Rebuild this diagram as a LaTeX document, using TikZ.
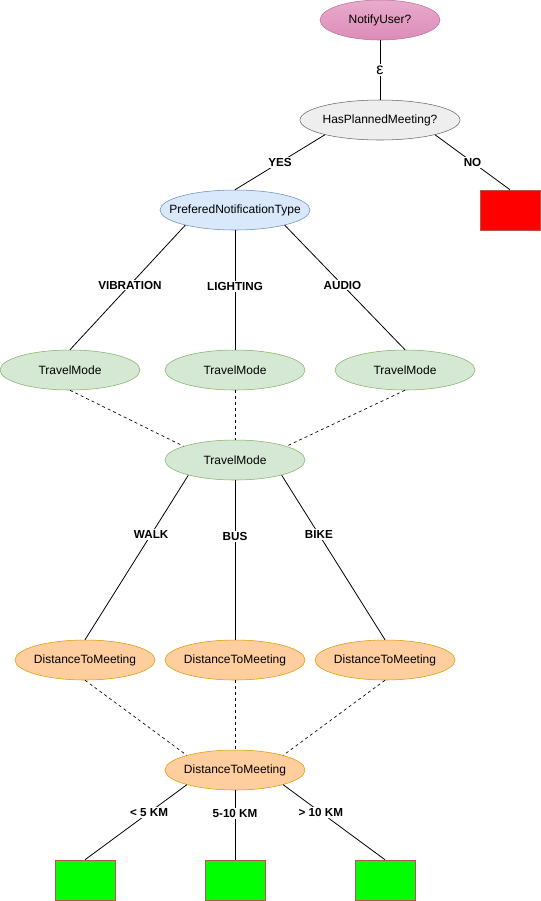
\documentclass[tikz,border=0pt]{standalone}
\usepackage{fontspec}
\setmainfont{Liberation Sans}
\usetikzlibrary{shapes.geometric}
\definecolor{askfill}{RGB}{220,140,183}
\definecolor{asktop}{RGB}{233,170,205}
\definecolor{askline}{RGB}{181,115,157}
\definecolor{plfill}{RGB}{238,238,238}
\definecolor{plline}{RGB}{102,102,102}
\definecolor{ntfill}{RGB}{218,232,252}
\definecolor{ntline}{RGB}{108,142,191}
\definecolor{tmfill}{RGB}{213,232,212}
\definecolor{tmline}{RGB}{130,179,102}
\definecolor{dmfill}{RGB}{255,206,159}
\definecolor{dmline}{RGB}{215,155,0}
\definecolor{leafline}{RGB}{184,84,80}
\begin{document}
\begin{tikzpicture}[x=0.75pt,y=0.75pt,yscale=-1,xscale=1,
  every node/.style={font=\fontsize{9}{11}\selectfont},
  oval/.style={ellipse,draw,inner ysep=0pt,inner xsep=-12pt,minimum width=105pt,minimum height=30pt},
  travel/.style={oval,fill=tmfill,draw=tmline},
  dist/.style={oval,fill=dmfill,draw=dmline},
  leaf/.style={rectangle,draw=leafline,minimum width=45pt,minimum height=30pt,inner sep=0pt},
  branch/.style={fill=white,inner sep=1pt,font=\bfseries\fontsize{8.75}{10}\selectfont},
  tie/.style={line width=0.6pt},
  link/.style={dash pattern=on 2.25pt off 2.25pt,line width=0.5pt}]
\useasboundingbox (0,0) rectangle (541,901);

% Question nodes
\node [oval,top color=asktop,bottom color=askfill,draw=askline,minimum width=90pt] (notify) at (380,20) {NotifyUser?};
\node [oval,fill=plfill,draw=plline,minimum width=120pt] (planned) at (380,120) {HasPlannedMeeting?};
\node [oval,fill=ntfill,draw=ntline,minimum width=112.5pt] (pref) at (235,210) {PreferedNotificationType};
\node [leaf,fill=red] (noleaf) at (510,210) {};

% Travel mode nodes
\node [travel] (tmvib) at (70,370) {TravelMode};
\node [travel] (tmlight) at (235,370) {TravelMode};
\node [travel] (tmaudio) at (405,370) {TravelMode};
\node [travel] (travel) at (235,460) {TravelMode};

% Distance nodes
\node [dist] (dwalk) at (85,660) {DistanceToMeeting};
\node [dist] (dbus) at (235,660) {DistanceToMeeting};
\node [dist] (dbike) at (385,660) {DistanceToMeeting};
\node [dist] (dist) at (235,770) {DistanceToMeeting};

% Leaves
\node [leaf,fill=green] (near) at (85,880) {};
\node [leaf,fill=green] (mid) at (235,880) {};
\node [leaf,fill=green] (far) at (385,880) {};

% Branches
\draw [tie] (notify) -- node [branch,font=\fontsize{12}{12}\selectfont] {ε} (planned);
\draw [tie] (planned.195) -- node [branch] {YES} (pref.north);
\draw [tie] (planned.345) -- node [branch] {NO} (noleaf.north);
\draw [tie] (pref.197) -- node [branch,pos=0.48] {VIBRATION} (tmvib.north);
\draw [tie] (pref.south) -- node [branch,pos=0.47] {LIGHTING} (tmlight.north);
\draw [tie] (pref.343) -- node [branch,pos=0.48] {AUDIO} (tmaudio.north);
\draw [tie] (travel.198) -- node [branch,pos=0.36] {WALK} (dwalk.north);
\draw [tie] (travel.south) -- node [branch,pos=0.35] {BUS} (dbus.north);
\draw [tie] (travel.342) -- node [branch,pos=0.36] {BIKE} (dbike.north);
\draw [tie] (dist.197) -- node [branch,pos=0.37] {< 5 KM} (near.north);
\draw [tie] (dist.south) -- node [branch,pos=0.33] {5-10 KM} (mid.north);
\draw [tie] (dist.343) -- node [branch,pos=0.37] {> 10 KM} (far.north);

% Merged
\draw [link] (tmvib.south) -- (travel.165);
\draw [link] (tmlight.south) -- (travel.north);
\draw [link] (tmaudio.south) -- (travel.15);
\draw [link] (dwalk.south) -- (dist.163);
\draw [link] (dbus.south) -- (dist.north);
\draw [link] (dbike.south) -- (dist.17);

\end{tikzpicture}
\end{document}
